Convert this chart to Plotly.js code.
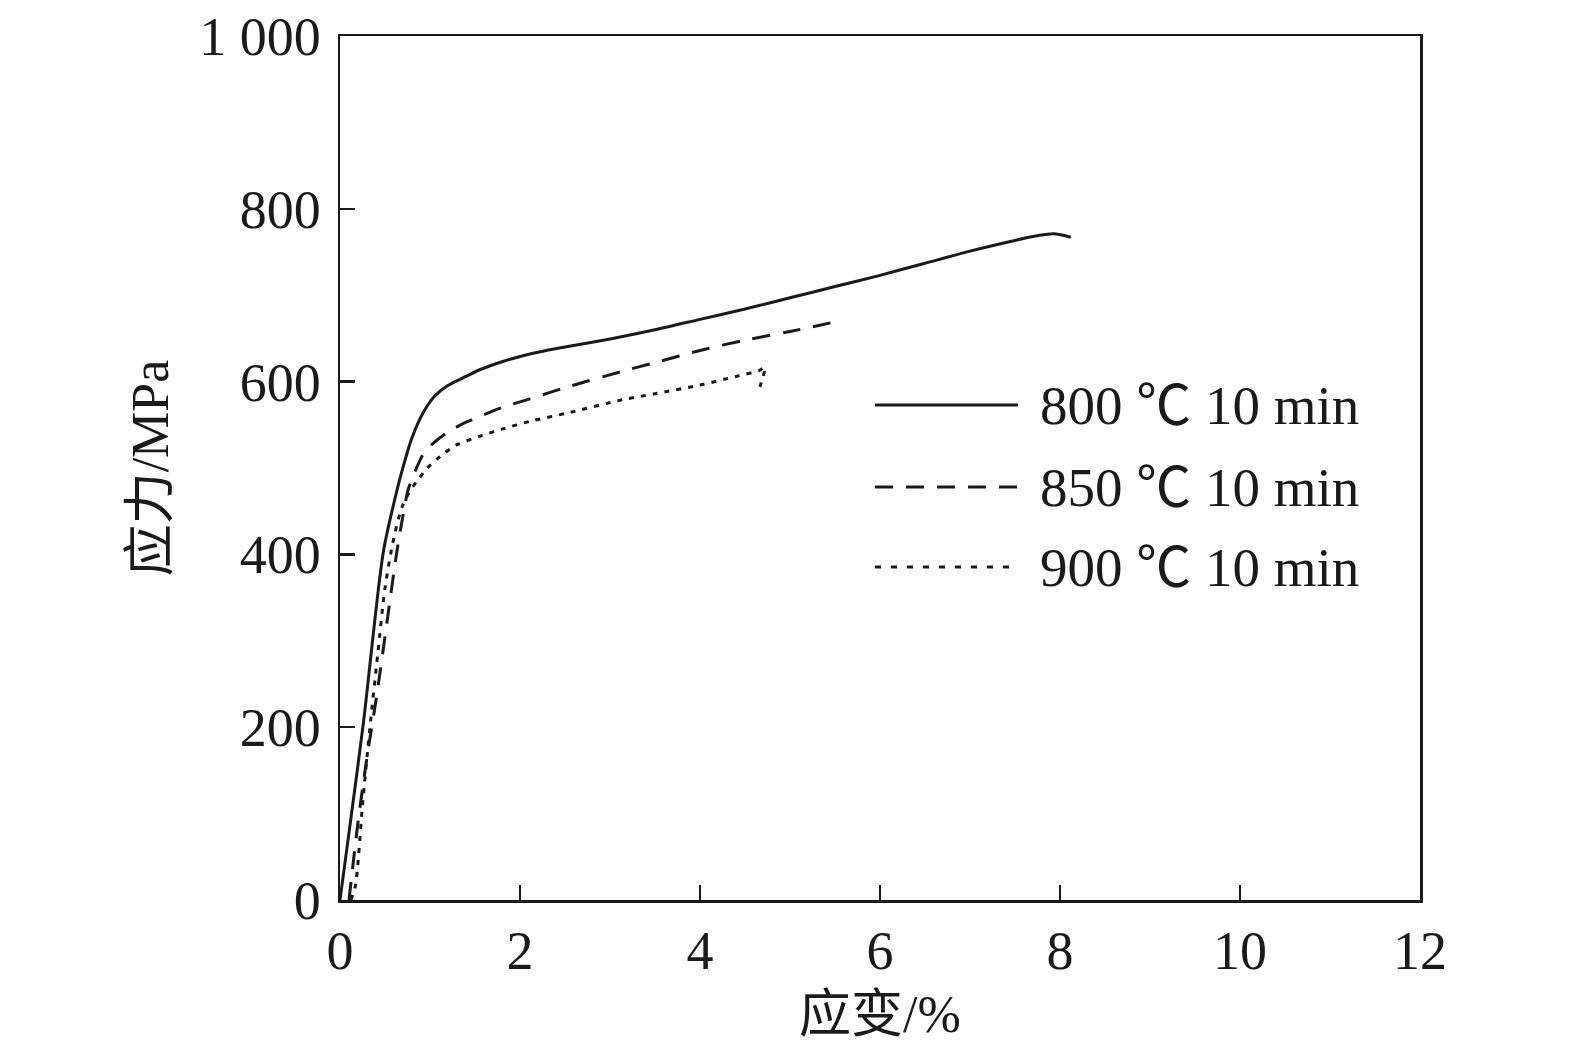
<!DOCTYPE html>
<html>
<head>
<meta charset="utf-8">
<script src="https://cdn.plot.ly/plotly-3.0.1.min.js"></script>
<style>html,body{margin:0;padding:0;background:#fff;}#chart{width:1575px;height:1057px;}</style>
</head>
<body>
<div id="chart"></div>
<script>
// 800 ℃ 10 min
const strain800 = [0, 0.1, 0.26, 0.48, 0.6, 0.69, 0.8, 0.93, 1.05, 1.19, 1.4, 1.56, 1.8, 2.11, 2.5, 3.03, 3.5, 4.0, 4.5, 5.0, 5.5, 6.0, 6.5, 7.0, 7.4, 7.7, 7.93, 8.05, 8.12];
const stress800 = [0, 78, 205, 402, 460, 497, 535, 565, 583, 595, 606, 614, 623, 632, 640, 650, 660, 672, 684, 697, 710, 723, 737, 751, 761, 768, 771, 769, 767];
// 850 ℃ 10 min
const strain850 = [0.1, 0.2, 0.3, 0.41, 0.52, 0.63, 0.7, 0.76, 0.85, 0.93, 1.05, 1.19, 1.4, 1.56, 1.8, 2.11, 2.5, 3.14, 3.5, 4.0, 4.5, 5.0, 5.54];
const stress850 = [0, 90, 165, 238, 320, 402, 445, 476, 500, 517, 530, 541, 553, 560, 570, 580, 593, 612, 622, 636, 648, 658, 670];
// 900 ℃ 10 min
const strain900 = [0.12, 0.17, 0.25, 0.33, 0.42, 0.5, 0.6, 0.69, 0.77, 0.85, 0.97, 1.11, 1.3, 1.56, 1.8, 2.11, 2.5, 3.14, 3.5, 4.0, 4.4, 4.66, 4.72, 4.7, 4.65];
const stress900 = [0, 16, 110, 197, 285, 361, 420, 455, 472, 484, 500, 513, 527, 537, 545, 554, 563, 579, 586, 596, 606, 613, 617, 605, 590];

const seriesNames = ['800 ℃ 10 min', '850 ℃ 10 min', '900 ℃ 10 min'];
const xTickVals = [0, 2, 4, 6, 8, 10, 12];
const xTickText = ['0', '2', '4', '6', '8', '10', '12'];
const yTickVals = [0, 200, 400, 600, 800, 1000];
const yTickText = ['0', '200', '400', '600', '800', '1 000'];

const FONT = 'Liberation Serif, Times New Roman, Noto Sans CJK SC, serif';
const dashes = ['solid', '18px,13px', '5px,7px'];

const traces = [
  {x: strain800, y: stress800, name: seriesNames[0], line: {dash: dashes[0]}},
  {x: strain850, y: stress850, name: seriesNames[1], line: {dash: dashes[1]}},
  {x: strain900, y: stress900, name: seriesNames[2], line: {dash: dashes[2]}}
].map(t => Object.assign(t, {
  type: 'scatter', mode: 'lines', showlegend: false,
  line: Object.assign({color: '#1a1a1a', width: 3, shape: 'spline', smoothing: 0.8}, t.line)
}));

// manual legend (paper coordinates)
const legendRows = [0.5729, 0.478, 0.3854];
const shapes = [];
const annotations = [];
seriesNames.forEach((nm, i) => {
  shapes.push({type: 'line', xref: 'paper', yref: 'paper', x0: 0.4954, x1: 0.6278,
    y0: legendRows[i], y1: legendRows[i], line: {color: '#1a1a1a', width: 3, dash: i === 2 ? '6px,10px' : dashes[i]}});
  annotations.push({xref: 'paper', yref: 'paper', x: 0.6462, y: legendRows[i], xanchor: 'left', yanchor: 'middle',
    text: nm, showarrow: false, font: {family: FONT, size: 55, color: '#1a1a1a'}});
});

const layout = {
  width: 1575, height: 1057,
  margin: {l: 340, r: 155, t: 36, b: 157},
  paper_bgcolor: '#fff', plot_bgcolor: '#fff',
  font: {family: FONT, size: 54, color: '#1a1a1a'},
  xaxis: {
    range: [0, 12], tickvals: xTickVals, ticktext: xTickText,
    showline: true, mirror: true, linecolor: '#1a1a1a', linewidth: 2.5,
    ticks: 'inside', ticklen: 15, tickwidth: 2.5, tickcolor: '#1a1a1a',
    showgrid: false, zeroline: false, ticklabelstandoff: 2,
    tickfont: {family: FONT, size: 54},
    title: {text: '应变/%', font: {family: FONT, size: 52}, standoff: 16}
  },
  yaxis: {
    range: [0, 1000], tickvals: yTickVals, ticktext: yTickText,
    showline: true, mirror: true, linecolor: '#1a1a1a', linewidth: 2.5,
    ticks: 'inside', ticklen: 15, tickwidth: 2.5, tickcolor: '#1a1a1a',
    showgrid: false, zeroline: false, ticklabelstandoff: 6,
    tickfont: {family: FONT, size: 54},
    title: {text: '应力/MPa', font: {family: FONT, size: 52}, standoff: 14}
  },
  shapes: shapes,
  annotations: annotations
};

Plotly.newPlot('chart', traces, layout, {displayModeBar: false, staticPlot: true});
</script>
</body>
</html>
